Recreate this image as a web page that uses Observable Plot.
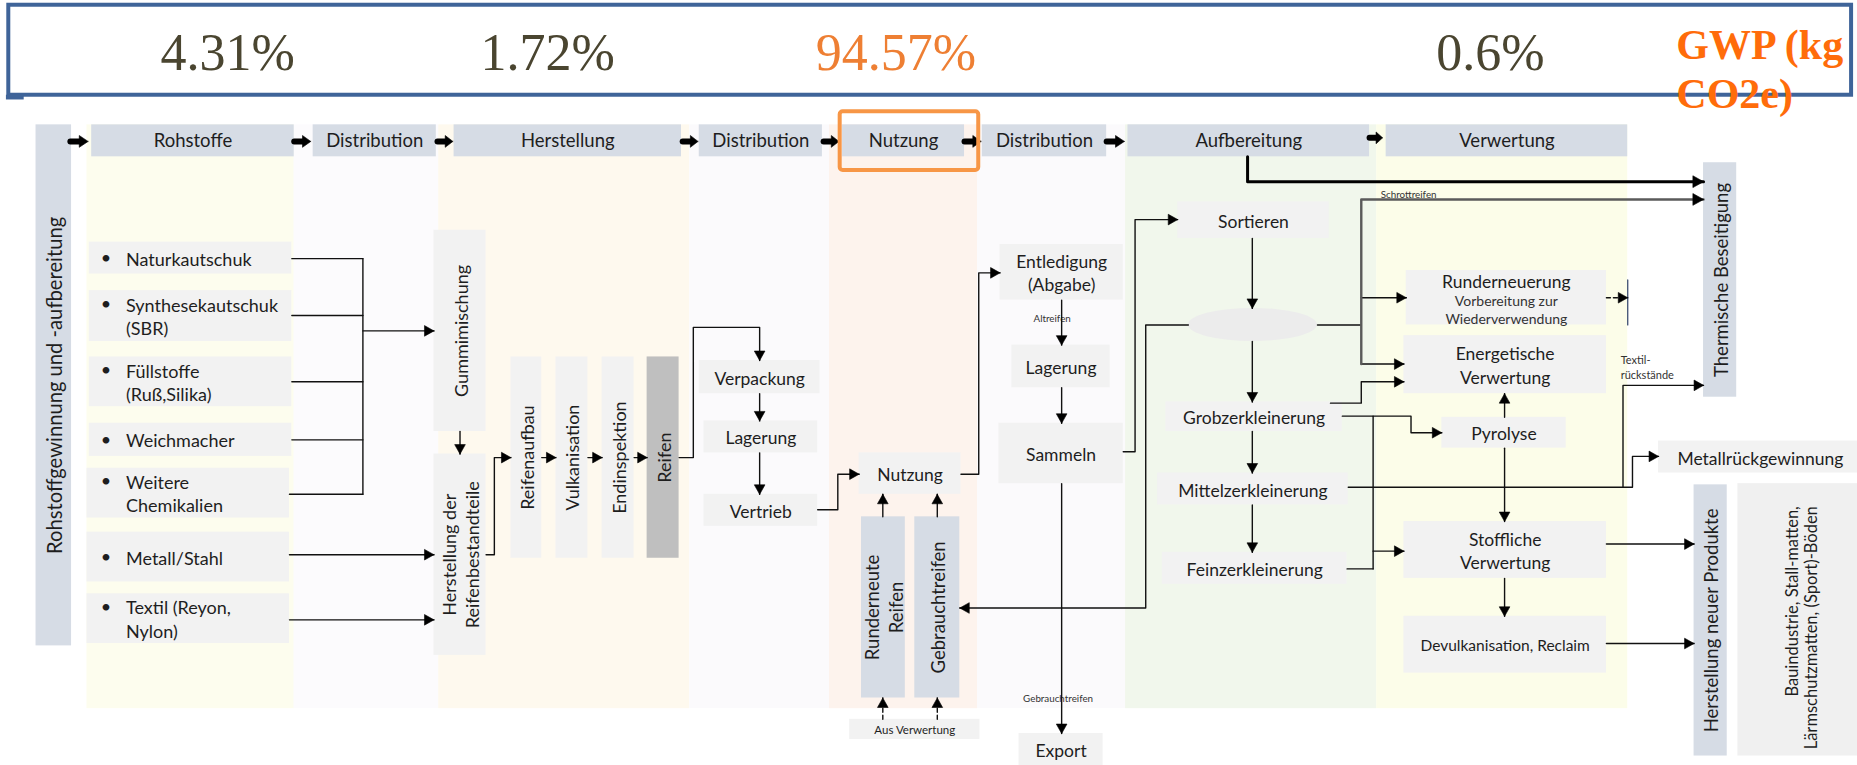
<!DOCTYPE html>
<html><head><meta charset="utf-8">
<script src="https://cdn.jsdelivr.net/npm/d3@7"></script>
<script src="https://cdn.jsdelivr.net/npm/@observablehq/plot@0.6"></script>
<style>html,body{margin:0;padding:0;background:#fff;overflow:hidden}#chart svg{display:block}</style>
</head><body><div id="chart"></div>
<script>
// ---------- data (diagram units, 1568 x 646 grid) ----------
const gwpLabels = ["4.31%", "1.72%", "94.57%", "0.6%"];
const gwpCenters = [191.7, 462, 756, 1258];
const gwpHighlight = [false, false, true, false];
const gwpUnitLines = ["GWP (kg", "CO2e)"];

const stageLabels = ["Rohstoffe","Distribution","Herstellung","Distribution","Nutzung","Distribution","Aufbereitung","Verwertung"];
const stageStart  = [77, 264, 383, 590, 711, 829, 952, 1170];
const stageEnd    = [248, 368, 575, 694, 814, 934, 1156, 1374];
const stageArrowStart = [59, 248, 369, 576, 695, 814, 934, 1156];
const stageArrowEnd   = [74, 262, 382, 589, 708, 828, 949, 1167];
const stageArrowRow   = [119, 119, 119, 119, 119, 119, 119, 116];

const columnEdges = [73, 248, 370, 582, 700, 825, 950, 1162, 1374];
const columnTints = ["#fdfdee", "#fcfbfd", "#fef9ee", "#fbfafc", "#fdf3ed", "#fbfafc", "#f1f7ec", "#fcfde9"];

const rawMaterials = ["Naturkautschuk", "Synthesekautschuk\n(SBR)", "Füllstoffe\n(Ruß,Silika)", "Weichmacher", "Weitere\nChemikalien", "Metall/Stahl", "Textil (Reyon,\nNylon)"];
const rawTop    = [204, 245, 301, 357, 395, 449, 501];
const rawBottom = [231, 288, 343, 385, 437, 491, 543];

const boxes = [
 {label:"Rohstoffgewinnung und -aufbereitung", x1:30, x2:60, y1:105, y2:545, kind:"vbar"},
 {label:"Gummimischung", x1:366, x2:410, y1:194, y2:364, kind:"vgrey"},
 {label:"Herstellung der\nReifenbestandteile", x1:366, x2:410, y1:383, y2:553, kind:"vgrey"},
 {label:"Reifenaufbau", x1:431, x2:457, y1:301, y2:471, kind:"vgrey"},
 {label:"Vulkanisation", x1:469, x2:496, y1:301, y2:471, kind:"vgrey"},
 {label:"Endinspektion", x1:508, x2:535, y1:301, y2:471, kind:"vgrey"},
 {label:"Reifen", x1:546, x2:573, y1:301, y2:471, kind:"vdark"},
 {label:"Verpackung", x1:590, x2:692, y1:304, y2:332, kind:"grey"},
 {label:"Lagerung", x1:594, x2:690, y1:355, y2:382, kind:"grey"},
 {label:"Vertrieb", x1:594, x2:690, y1:417, y2:444, kind:"grey"},
 {label:"Nutzung", x1:725, x2:811, y1:382, y2:417, kind:"grey"},
 {label:"Runderneute\nReifen", x1:727, x2:764, y1:436, y2:589, kind:"vblue"},
 {label:"Gebrauchtreifen", x1:772, x2:810, y1:436, y2:589, kind:"vblue"},
 {label:"Aus Verwertung", x1:717, x2:827, y1:607, y2:624, kind:"tiny"},
 {label:"Entledigung\n(Abgabe)", x1:844, x2:948, y1:206, y2:253, kind:"grey"},
 {label:"Lagerung", x1:854, x2:937, y1:291, y2:327, kind:"grey"},
 {label:"Sammeln", x1:843, x2:948, y1:357, y2:408, kind:"grey"},
 {label:"Export", x1:860, x2:931, y1:619, y2:646, kind:"grey"},
 {label:"Sortieren", x1:994, x2:1122, y1:170, y2:201, kind:"grey"},
 {label:"Grobzerkleinerung", x1:984, x2:1133, y1:339, y2:364, kind:"grey"},
 {label:"Mittelzerkleinerung", x1:977, x2:1138, y1:399, y2:426, kind:"grey"},
 {label:"Feinzerkleinerung", x1:981, x2:1137, y1:466, y2:493, kind:"grey"},
 {label:"Runderneuerung", x1:1187, x2:1356, y1:228, y2:274, kind:"grey", ty:236.5},
 {label:"Energetische\nVerwertung", x1:1185, x2:1356, y1:283, y2:332, kind:"grey"},
 {label:"Pyrolyse", x1:1217, x2:1322, y1:352, y2:378, kind:"grey"},
 {label:"Stoffliche\nVerwertung", x1:1185, x2:1356, y1:440, y2:488, kind:"grey"},
 {label:"Devulkanisation, Reclaim", x1:1185, x2:1356, y1:520, y2:568, kind:"mid"},
 {label:"Thermische Beseitigung", x1:1438, x2:1466, y1:137, y2:335, kind:"vblue"},
 {label:"Metallrückgewinnung", x1:1400, x2:1568, y1:372, y2:399, kind:"grey", tx:1486},
 {label:"Herstellung neuer Produkte", x1:1430, x2:1458, y1:409, y2:638, kind:"vblue"},
 {label:"Bauindustrie, Stall-matten,\nLärmschutzmatten, (Sport)-Böden", x1:1467, x2:1568, y1:408, y2:638, kind:"vnote", tx:1521, ty:427}
];

const junction = {x1:1003, x2:1112, y1:260, y2:288};

const notes = [
 {text:"Altreifen", x:888, y:268, kind:"xs"},
 {text:"Schrottreifen", x:1189, y:163, kind:"xs"},
 {text:"Gebrauchtreifen", x:893, y:589, kind:"xs"},
 {text:"Textil-\nrückstände", x:1368, y:309.5, kind:"s"},
 {text:"Vorbereitung zur\nWiederverwendung", x:1271.5, y:260.5, kind:"m"}
];

// flows: polyline points, arrowhead at the end?, line kind
const flows = [
 {pts:[[246,218],[306,218]], head:false},
 {pts:[[246,266],[306,266]], head:false},
 {pts:[[246,322],[306,322]], head:false},
 {pts:[[246,371],[306,371]], head:false},
 {pts:[[244,417],[306,417]], head:false},
 {pts:[[306,218],[306,417]], head:false},
 {pts:[[306,279],[366,279]], head:true},
 {pts:[[244,468],[366,468]], head:true},
 {pts:[[244,523],[366,523]], head:true},
 {pts:[[388,364],[388,383]], head:true},
 {pts:[[410,468],[417,468],[417,386],[431,386]], head:true},
 {pts:[[457,386],[469,386]], head:true},
 {pts:[[496,386],[508,386]], head:true},
 {pts:[[535,386],[546,386]], head:true},
 {pts:[[573,386],[585,386],[585,276],[641,276],[641,304]], head:true},
 {pts:[[641,332],[641,355]], head:true},
 {pts:[[641,382],[641,417]], head:true},
 {pts:[[690,430],[707,430],[707,400],[725,400]], head:true},
 {pts:[[745,436],[745,417]], head:true},
 {pts:[[791,436],[791,417]], head:true},
 {pts:[[745,607],[745,589]], head:true, kind:"dash"},
 {pts:[[791,607],[791,589]], head:true, kind:"dash"},
 {pts:[[811,400],[826,400],[826,230],[844,230]], head:true},
 {pts:[[896,253],[896,291]], head:true},
 {pts:[[896,327],[896,357]], head:true},
 {pts:[[948,381],[958,381],[958,185],[994,185]], head:true},
 {pts:[[896,408],[896,619]], head:true},
 {pts:[[1057,201],[1057,260]], head:true},
 {pts:[[1057,288],[1057,339]], head:true},
 {pts:[[1003,274],[967,274],[967,513],[810,513]], head:true},
 {pts:[[1112,274],[1149,274]], head:false},
 {pts:[[1149,307],[1149,168],[1438,168]], head:true, kind:"grey"},
 {pts:[[1149,251],[1187,251]], head:true},
 {pts:[[1149,307],[1185,307]], head:true},
 {pts:[[1123,340],[1149,340],[1149,322],[1185,322]], head:true},
 {pts:[[1133,351],[1191,351],[1191,365],[1217,365]], head:true},
 {pts:[[1159,351],[1159,480]], head:false},
 {pts:[[1137,480],[1159,480]], head:false},
 {pts:[[1159,465],[1185,465]], head:true},
 {pts:[[1057,364],[1057,399]], head:true},
 {pts:[[1057,426],[1057,466]], head:true},
 {pts:[[1138,411],[1378,411],[1378,385],[1400,385]], head:true},
 {pts:[[1370,411],[1370,325],[1438,325]], head:true},
 {pts:[[1270,352],[1270,332]], head:true},
 {pts:[[1270,378],[1270,440]], head:true},
 {pts:[[1270,488],[1270,520]], head:true},
 {pts:[[1356,459],[1430,459]], head:true},
 {pts:[[1356,543],[1430,543]], head:true},
 {pts:[[1356,251],[1374,251]], head:true, kind:"dash"},
 {pts:[[1374,236],[1374,274]], head:false, kind:"navy"},
 {pts:[[1053,132],[1053,153],[1438,153]], head:true, kind:"thick"}
];

const gwpPanel = {x1:7, x2:1563, y1:4, y2:80};
const gwpTab = {x1:5, x2:20, y1:80, y2:84};
const stageHighlight = {x1:709, x2:826, y1:94, y2:143.5};

// ---------- styles ----------
const GW = 1568, GH = 646, W = 1857, H = 765, K = W / GW;
const FONT = "Lato, 'Open Sans', sans-serif";
const SERIF = "'Liberation Serif', 'DejaVu Serif', serif";
const INK = "#1e1e1e";
const boxFill = {grey:"#f2f2f2", vgrey:"#f2f2f2", vnote:"#f0f0f0", vdark:"#bfbfbf", vblue:"#d6dce5", vbar:"#d6dce5", tiny:"#f2f2f2", mid:"#f2f2f2"};
const boxFont = {grey:17.5, vgrey:18, vnote:16.5, vdark:18, vblue:18.5, vbar:20.2, tiny:11.5, mid:15.5};
const noteFont = {xs:9.8, s:11, m:14};
const flowStyle = {
  line: {stroke:"#111", strokeWidth:1.4},
  dash: {stroke:"#111", strokeWidth:1.4, strokeDasharray:"4,3"},
  grey: {stroke:"#5a5a5a", strokeWidth:2.4},
  navy: {stroke:"#2f4266", strokeWidth:1.2},
  thick:{stroke:"#000", strokeWidth:3}
};

// ---------- derived tables ----------
const stages = stageLabels.map((label, i) => ({label, x1: stageStart[i], x2: stageEnd[i]}));
const columns = columnTints.map((c, i) => ({c, x1: columnEdges[i], x2: columnEdges[i + 1]}));
const raws = rawMaterials.map((label, i) => ({label, y1: rawTop[i], y2: rawBottom[i], n: label.split("\n").length}));

function headTriangle(p, q, L, Wd, id) {
  const dx = q[0] - p[0], dy = q[1] - p[1], len = Math.hypot(dx, dy);
  const ux = dx / len, uy = dy / len;
  const bx = q[0] - ux * L, by = q[1] - uy * L;
  return [[q[0], q[1]], [bx - uy * Wd, by + ux * Wd], [bx + uy * Wd, by - ux * Wd], [q[0], q[1]]]
    .map(([x, y]) => ({x, y, id}));
}

const flowPts = {};
const heads = [];
flows.forEach((f, i) => {
  const kind = f.kind || "line";
  (flowPts[kind] = flowPts[kind] || []).push(...f.pts.map(([x, y]) => ({x, y, id: i})));
  if (f.head) {
    const n = f.pts.length;
    const big = kind === "thick" || kind === "grey";
    heads.push(...headTriangle(f.pts[n - 2], f.pts[n - 1], big ? 9 : 8, big ? 5 : 4.5, i));
  }
});

const stageArrowBodies = [];
const stageArrowHeads = [];
stageArrowStart.forEach((s, i) => {
  const e = stageArrowEnd[i], y = stageArrowRow[i], m = s + 0.5 * (e - s);
  stageArrowBodies.push({x: s, y, id: i}, {x: m + 0.5, y, id: i});
  stageArrowHeads.push(...headTriangle([s, y], [e, y], e - m, 5, i));
});

const marks = [];
// column tints
marks.push(Plot.rect(columns, {x1:"x1", x2:"x2", y1:() => 105, y2:() => 598, fill:"c"}));
// GWP panel
marks.push(Plot.rect([gwpPanel], {x1:"x1", x2:"x2", y1:"y1", y2:"y2", fill:"white", stroke:"#3f6499", strokeWidth:4}));
marks.push(Plot.rect([gwpTab], {x1:"x1", x2:"x2", y1:"y1", y2:"y2", fill:"#3f6499"}));
marks.push(Plot.text(gwpLabels, {x:(d, i) => gwpCenters[i], y:() => 59, text:d => d, lineAnchor:"bottom",
  fontFamily:SERIF, fontSize:52, fill:(d, i) => gwpHighlight[i] ? "#ee7f33" : "#4a4530"}));
marks.push(Plot.text(gwpUnitLines, {x:() => 1415, y:(d, i) => i === 0 ? 49 : 90.5, text:d => d, textAnchor:"start", lineAnchor:"bottom",
  fontFamily:SERIF, fontSize:42, fontWeight:"bold", fill:"#ff6c0a"}));
// stage header boxes
marks.push(Plot.rect(stages, {x1:"x1", x2:"x2", y1:() => 105, y2:() => 132, fill:"#d6dce5"}));
marks.push(Plot.text(stages, {x:d => (d.x1 + d.x2) / 2, y:() => 119, text:"label", fontFamily:FONT, fontSize:18.5, fill:INK}));
// raw material items
marks.push(Plot.rect(raws, {x1:(d, i) => i >= 4 ? 73 : 75, x2:(d, i) => i >= 4 ? 244 : 246, y1:"y1", y2:"y2", fill:"#f2f2f2"}));
marks.push(Plot.text(raws, {x:() => 89, y:d => (d.y1 + d.y2) / 2 - (d.n - 1) * 10, text:() => "•", fontFamily:FONT, fontSize:18, fill:INK}));
marks.push(Plot.text(raws, {x:() => 106, y:d => (d.y1 + d.y2) / 2, text:"label", textAnchor:"start", lineHeight:1.31, fontFamily:FONT, fontSize:18, fill:INK}));
// boxes
marks.push(Plot.rect(boxes, {x1:"x1", x2:"x2", y1:"y1", y2:"y2", fill:d => boxFill[d.kind]}));
marks.push(Plot.rect([junction], {x1:"x1", x2:"x2", y1:"y1", y2:"y2", fill:"#ececec", rx:(junction.x2 - junction.x1) / 2 * K, ry:(junction.y2 - junction.y1) / 2 * K}));
const flat = boxes.filter(d => !d.kind.startsWith("v"));
const vert = boxes.filter(d => d.kind.startsWith("v") && d.kind !== "vnote");
const vnote = boxes.filter(d => d.kind === "vnote");
for (const size of [...new Set(flat.map(d => boxFont[d.kind]))]) {
  marks.push(Plot.text(flat.filter(d => boxFont[d.kind] === size), {x:d => d.tx ?? (d.x1 + d.x2) / 2, y:d => d.ty ?? (d.y1 + d.y2) / 2,
    text:"label", lineHeight:1.34, fontFamily:FONT, fontSize:size, fill:INK}));
}
for (const size of [...new Set(vert.map(d => boxFont[d.kind]))]) {
  marks.push(Plot.text(vert.filter(d => boxFont[d.kind] === size), {x:d => (d.x1 + d.x2) / 2, y:d => (d.y1 + d.y2) / 2, text:"label",
    rotate:-90, lineHeight:1.3, fontFamily:FONT, fontSize:size, fill:INK}));
}
marks.push(Plot.text(vnote, {x:d => d.tx, y:d => d.ty, text:"label", rotate:-90, textAnchor:"end", lineHeight:1.15,
  fontFamily:FONT, fontSize:boxFont.vnote, fill:INK}));
// small notes
for (const kind of Object.keys(noteFont)) {
  marks.push(Plot.text(notes.filter(d => d.kind === kind), {x:"x", y:"y", text:"text", textAnchor:kind === "s" ? "start" : "middle",
    lineHeight:kind === "s" ? 1.35 : 1.28, fontFamily:FONT, fontSize:noteFont[kind], fill:"#333"}));
}
// flows
for (const kind of Object.keys(flowPts)) {
  marks.push(Plot.line(flowPts[kind], {x:"x", y:"y", z:"id", curve:"linear", ...flowStyle[kind]}));
}
marks.push(Plot.line(heads, {x:"x", y:"y", z:"id", fill:"#000", stroke:"#000", strokeWidth:0.6}));
// stage arrows
marks.push(Plot.line(stageArrowBodies, {x:"x", y:"y", z:"id", stroke:"#000", strokeWidth:6}));
marks.push(Plot.line(stageArrowHeads, {x:"x", y:"y", z:"id", fill:"#000", stroke:"#000", strokeWidth:0.6}));
// highlight frame of the stage with the largest share
marks.push(Plot.rect([stageHighlight], {x1:"x1", x2:"x2", y1:"y1", y2:"y2", fill:"none", stroke:"#f79646", strokeWidth:4, rx:3}));

const chart = Plot.plot({
  width: W, height: H, margin: 0,
  x: {domain: [0, GW], range: [0, W], axis: null},
  y: {domain: [0, GH], range: [0, H], axis: null},
  color: {type: "identity"},
  style: {background: "#fff", fontFamily: FONT, overflow: "visible"},
  marks
});
document.getElementById("chart").appendChild(chart);
</script>
</body></html>
